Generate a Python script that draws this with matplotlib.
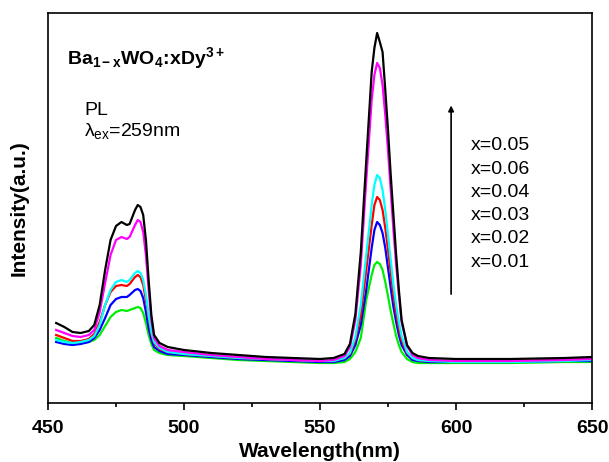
import matplotlib
matplotlib.use('Agg')
import matplotlib.pyplot as plt
import numpy as np

plt.rcParams['font.family'] = ['Liberation Sans', 'DejaVu Sans']
plt.rcParams['mathtext.fontset'] = 'custom'
plt.rcParams['mathtext.rm'] = 'Liberation Sans'
plt.rcParams['mathtext.it'] = 'Liberation Sans'
plt.rcParams['mathtext.bf'] = 'Liberation Sans:bold'

# emission spectra, Ba1-xWO4:xDy3+, excitation 259 nm
wavelength = [453, 456, 459, 462, 465, 467, 469, 471, 473, 475,
              477, 479, 480, 482, 483, 484, 485, 486, 487, 488,
              489, 491, 494, 500, 510, 520, 530, 540, 550, 555,
              559, 561, 563, 565, 567, 569, 570, 571, 572, 573,
              574, 575, 576, 577, 578, 579, 580, 582, 584, 586,
              590, 600, 620, 640, 650]

pl_005 = [80, 76, 71, 70, 72, 78, 98, 133, 163, 177,
          181, 178, 179, 193, 198, 196, 188, 163, 123, 88,
          68, 60, 56, 53, 50, 48, 46, 45, 44, 45,
          49, 59, 89, 151, 242, 331, 355, 370, 361, 351,
          313, 273, 228, 188, 148, 113, 83, 58, 50, 47,
          45, 44, 44, 45, 46]
pl_006 = [73, 70, 67, 66, 68, 73, 91, 120, 148, 163,
          166, 164, 166, 178, 183, 181, 171, 148, 113, 83,
          65, 57, 53, 51, 48, 46, 44, 43, 42, 43,
          47, 56, 83, 138, 223, 303, 328, 340, 335, 318,
          288, 253, 213, 173, 138, 108, 81, 57, 48, 45,
          43, 42, 42, 43, 44]
pl_004 = [63, 61, 60, 61, 63, 67, 78, 98, 113, 121,
          123, 121, 123, 130, 132, 130, 123, 108, 88, 71,
          61, 55, 51, 49, 47, 45, 44, 43, 42, 42,
          45, 50, 66, 98, 148, 198, 218, 228, 225, 213,
          193, 168, 143, 118, 98, 81, 67, 51, 45, 43,
          42, 41, 41, 42, 43]
pl_003 = [68, 65, 62, 62, 64, 69, 81, 98, 111, 117,
          118, 117, 119, 126, 128, 126, 118, 103, 85, 69,
          60, 54, 51, 49, 47, 45, 44, 43, 42, 42,
          45, 49, 63, 88, 133, 178, 198, 206, 203, 193,
          175, 153, 131, 108, 90, 75, 63, 50, 45, 43,
          42, 42, 42, 43, 44]
pl_002 = [61, 59, 58, 59, 61, 65, 73, 85, 98, 104,
          106, 106, 108, 113, 114, 112, 105, 91, 75, 63,
          56, 52, 49, 48, 46, 44, 43, 42, 41, 41,
          43, 47, 58, 78, 113, 155, 173, 181, 178, 170,
          155, 135, 115, 96, 81, 68, 58, 48, 43, 42,
          41, 41, 41, 42, 42]
pl_001 = [65, 62, 60, 60, 61, 63, 68, 77, 86, 91,
          93, 92, 93, 95, 96, 95, 90, 80, 68, 59,
          53, 50, 48, 47, 45, 43, 42, 41, 40, 40,
          41, 44, 51, 65, 103, 128, 138, 141, 139, 133,
          121, 107, 92, 79, 67, 58, 51, 44, 41, 40,
          40, 40, 40, 41, 41]

labels = ['x=0.05', 'x=0.06', 'x=0.04', 'x=0.03', 'x=0.02', 'x=0.01']

fig = plt.figure(figsize=(6.09, 4.62), dpi=100)
ax = fig.add_axes([48 / 609, 59 / 462, 544 / 609, 390 / 462])

ax.plot(wavelength, pl_001, color='#00ee00', lw=1.6)
ax.plot(wavelength, pl_002, color='#0000ff', lw=1.6)
ax.plot(wavelength, pl_003, color='#ff0000', lw=1.6)
ax.plot(wavelength, pl_004, color='#00ffff', lw=1.6)
ax.plot(wavelength, pl_006, color='#ff00ff', lw=1.6)
ax.plot(wavelength, pl_005, color='black', lw=1.6)

ax.set_xlim(450, 650)
ax.set_ylim(0, 390)
ax.set_xticks([450, 500, 550, 600, 650])
ax.set_xticks([475, 525, 575, 625], minor=True)
ax.set_yticks([])
ax.tick_params(axis='x', which='major', direction='out', length=5, width=1.2, pad=7,
               labelsize=14)
ax.tick_params(axis='x', which='minor', direction='out', length=3, width=1.2)
for lab in ax.get_xticklabels():
    lab.set_fontweight('bold')
for s in ax.spines.values():
    s.set_linewidth(1.2)

ax.set_xlabel('Wavelength(nm)', fontsize=15, fontweight='bold', labelpad=4)
ax.set_ylabel('Intensity(a.u.)', fontsize=15, fontweight='bold', labelpad=14)

ax.text(0.035, 0.87, r'$\mathbf{Ba_{1-x}WO_4\!:\!xDy^{3+}}$', transform=ax.transAxes,
        fontsize=14)
ax.text(0.066, 0.738, 'PL', transform=ax.transAxes, fontsize=14)
ax.text(0.066, 0.685, r'$\lambda_{\rm ex}$=259nm', transform=ax.transAxes, fontsize=14)

ax.annotate('', xy=(0.741, 0.77), xytext=(0.741, 0.272), xycoords='axes fraction',
            arrowprops=dict(arrowstyle='-|>', color='black', lw=1.2, mutation_scale=8))
for i, t in enumerate(labels):
    ax.text(0.778, 0.659 - i * 0.0595, t, transform=ax.transAxes, fontsize=14,
            va='center')

fig.savefig('out.png', dpi=100)
